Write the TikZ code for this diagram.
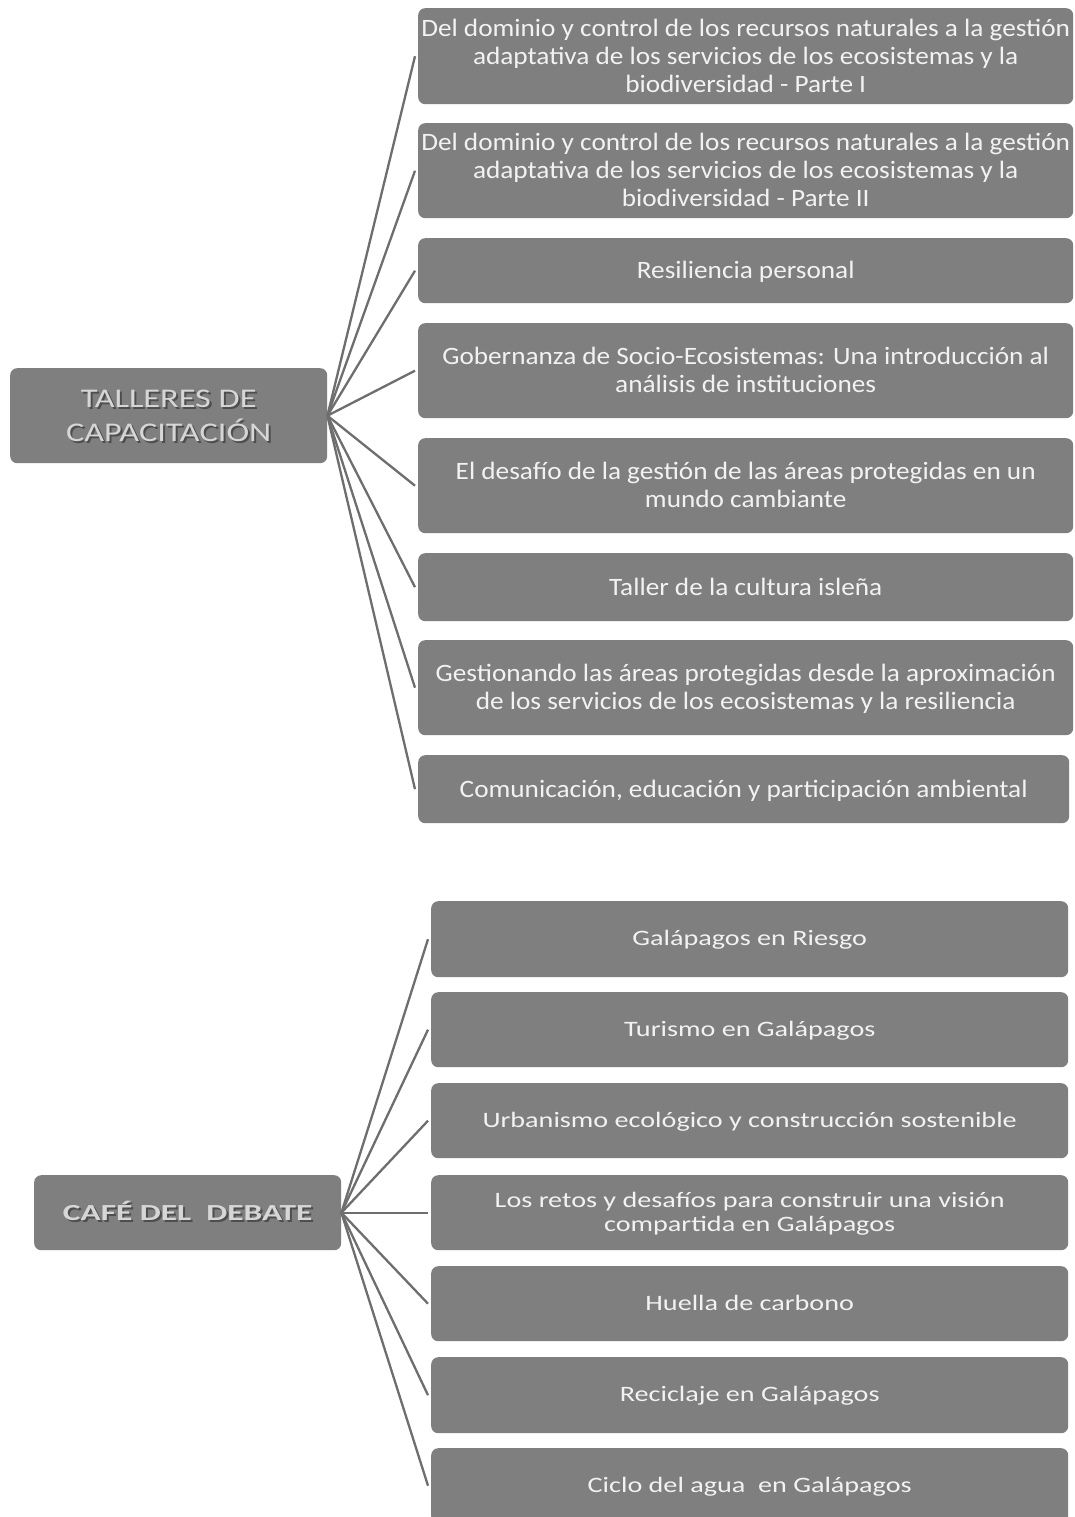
\documentclass[tikz,border=0pt]{standalone}
\usepackage{graphicx}
\usepackage{fontspec}
\setmainfont{Carlito}
\definecolor{boxgray}{HTML}{7F7F7F}
\definecolor{boxtext}{HTML}{F2F2F2}
\definecolor{linkgray}{HTML}{6E6E6E}
\definecolor{roottext}{HTML}{D6D6D6}
\definecolor{rootshadow}{HTML}{4E4E4E}
% horizontally widened, centred block of lines, set slightly low
\newcommand\widetext[3][2.5pt]{\raisebox{-#1}[\height][\depth]{%
  \scalebox{#2}[1]{\begin{tabular}{@{}c@{}}#3\end{tabular}}}}
\begin{document}
\begin{tikzpicture}[x=1pt,y=-1pt,
  box/.style={fill=boxgray, rounded corners=7pt, text=boxtext, align=center,
    inner sep=0pt, anchor=north west},
  topitem/.style={box, font=\fontsize{25}{28}\selectfont},
  botitem/.style={box, font=\fontsize{22}{24}\selectfont},
  rootbox/.style={box, text=roottext},
  link/.style={draw=linkgray, line width=2.3pt}]
\useasboundingbox[fill=white] (0,0) rectangle (1074,1517);

% first tree: training workshops
\node[rootbox, minimum width=317pt, minimum height=95pt] (r1) at (10,368) {};
\node[text=rootshadow, font=\fontsize{27}{34}\selectfont, inner sep=0pt]
  at ([shift={(2pt,-2pt)}]r1.center) {\widetext[2pt]{1.27}{TALLERES DE\\CAPACITACIÓN}};
\node[text=roottext, font=\fontsize{27}{34}\selectfont, inner sep=0pt]
  (r1t) at (r1.center) {\widetext[2pt]{1.27}{TALLERES DE\\CAPACITACIÓN}};

\node[topitem, minimum width=655pt, minimum height=96pt] (t1) at (418,8)
  {\widetext{1.09}{Del dominio y control de los recursos naturales a la gestión\\adaptativa de los servicios de los ecosistemas y la\\biodiversidad - Parte I}};
\node[topitem, minimum width=655pt, minimum height=95pt] (t2) at (418,123)
  {\widetext{1.09}{Del dominio y control de los recursos naturales a la gestión\\adaptativa de los servicios de los ecosistemas y la\\biodiversidad - Parte II}};
\node[topitem, minimum width=655pt, minimum height=65pt] (t3) at (418,238)
  {\widetext{1.09}{Resiliencia personal}};
\node[topitem, minimum width=655pt, minimum height=95pt] (t4) at (418,323)
  {\widetext{1.09}{Gobernanza de Socio-Ecosistemas: Una introducción al\\análisis de instituciones}};
\node[topitem, minimum width=655pt, minimum height=95pt] (t5) at (418,438)
  {\widetext{1.09}{El desafío de la gestión de las áreas protegidas en un\\mundo cambiante}};
\node[topitem, minimum width=655pt, minimum height=68pt] (t6) at (418,553)
  {\widetext{1.09}{Taller de la cultura isleña}};
\node[topitem, minimum width=655pt, minimum height=95pt] (t7) at (418,640)
  {\widetext{1.09}{Gestionando las áreas protegidas desde la aproximación\\de los servicios de los ecosistemas y la resiliencia}};
\node[topitem, minimum width=651pt, minimum height=68pt] (t8) at (418,755)
  {\widetext{1.09}{Comunicación, educación y participación ambiental}};

\foreach \c in {t1,t2,t3,t4,t5,t6,t7,t8}
  \draw[link] (r1.east) -- ([xshift=-3pt]\c.west);

% second tree: debate café
\node[rootbox, minimum width=307pt, minimum height=75pt] (r2) at (34,1175) {};
\node[text=rootshadow, font=\fontsize{23}{28}\selectfont\bfseries, inner sep=0pt]
  at ([shift={(2pt,-2pt)}]r2.center) {\widetext[2pt]{1.45}{CAFÉ DEL\ \ DEBATE}};
\node[text=roottext, font=\fontsize{23}{28}\selectfont\bfseries, inner sep=0pt]
  (r2t) at (r2.center) {\widetext[2pt]{1.45}{CAFÉ DEL\ \ DEBATE}};

\node[botitem, minimum width=637pt, minimum height=76pt] (b1) at (431,901)
  {\widetext[1.5pt]{1.28}{Galápagos en Riesgo}};
\node[botitem, minimum width=637pt, minimum height=75pt] (b2) at (431,992)
  {\widetext[1.5pt]{1.28}{Turismo en Galápagos}};
\node[botitem, minimum width=637pt, minimum height=75pt] (b3) at (431,1083)
  {\widetext[1.5pt]{1.28}{Urbanismo ecológico y construcción sostenible}};
\node[botitem, minimum width=637pt, minimum height=75pt] (b4) at (431,1175)
  {\widetext[1.5pt]{1.28}{Los retos y desafíos para construir una visión\\compartida en Galápagos}};
\node[botitem, minimum width=637pt, minimum height=75pt] (b5) at (431,1266)
  {\widetext[1.5pt]{1.28}{Huella de carbono}};
\node[botitem, minimum width=637pt, minimum height=76pt] (b6) at (431,1357)
  {\widetext[1.5pt]{1.28}{Reciclaje en Galápagos}};
\node[botitem, minimum width=637pt, minimum height=75pt] (b7) at (431,1448)
  {\widetext[1.5pt]{1.28}{Ciclo del agua\ \ en Galápagos}};

\foreach \c in {b1,b2,b3,b4,b5,b6,b7}
  \draw[link] (r2.east) -- ([xshift=-3pt]\c.west);
\end{tikzpicture}
\end{document}
